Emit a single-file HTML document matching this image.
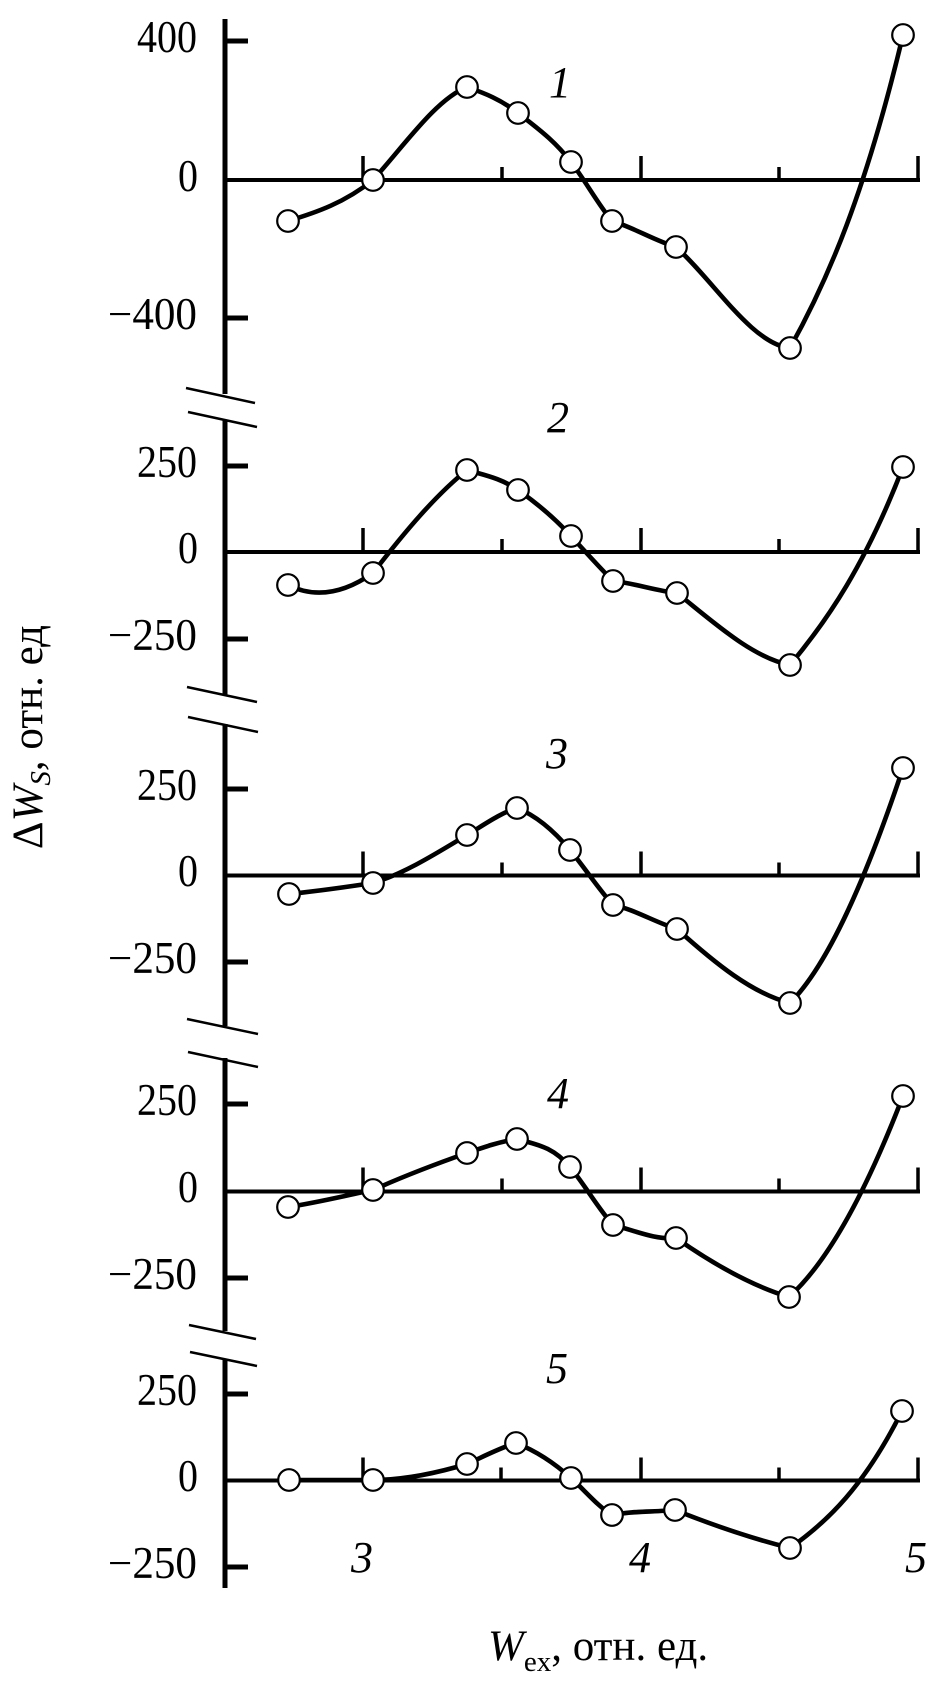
<!DOCTYPE html>
<html><head><meta charset="utf-8"><style>
html,body{margin:0;padding:0;background:#fff;}
svg{display:block;}
text{font-family:"Liberation Serif","Noto Serif CJK SC",serif;fill:#000;}
</style></head><body>
<svg width="939" height="1683" viewBox="0 0 939 1683" xmlns="http://www.w3.org/2000/svg">
<rect width="939" height="1683" fill="#fff"/>
<g stroke="#000" fill="none" stroke-linecap="butt">
<!-- y axis segments -->
<line x1="225" y1="19" x2="225" y2="394" stroke-width="5"/>
<line x1="225" y1="420" x2="225" y2="695" stroke-width="5"/>
<line x1="225" y1="724" x2="225" y2="1026" stroke-width="5"/>
<line x1="225" y1="1058" x2="225" y2="1331" stroke-width="5"/>
<line x1="225" y1="1359" x2="225" y2="1588" stroke-width="5"/>
<!-- breaks -->
<g stroke-width="2.5">
<line x1="186" y1="388" x2="255" y2="403"/><line x1="188" y1="412" x2="257" y2="427"/>
<line x1="187" y1="687" x2="257" y2="702"/><line x1="188" y1="717" x2="258" y2="732"/>
<line x1="187" y1="1019" x2="258" y2="1034"/><line x1="188" y1="1052" x2="258" y2="1067"/>
<line x1="189" y1="1325" x2="256" y2="1339"/><line x1="190" y1="1352" x2="257" y2="1366"/>
</g>
<!-- y ticks -->
<g stroke-width="5">
<line x1="225" y1="41" x2="248" y2="41"/><line x1="225" y1="318" x2="248" y2="318"/>
<line x1="225" y1="466" x2="248" y2="466"/><line x1="225" y1="639" x2="248" y2="639"/>
<line x1="225" y1="789" x2="248" y2="789"/><line x1="225" y1="962" x2="248" y2="962"/>
<line x1="225" y1="1104" x2="248" y2="1104"/><line x1="225" y1="1278" x2="248" y2="1278"/>
<line x1="225" y1="1394" x2="248" y2="1394"/><line x1="225" y1="1567" x2="248" y2="1567"/>
</g>
<!-- zero lines -->
<g stroke-width="4">
<line x1="225" y1="180" x2="920" y2="180"/>
<line x1="225" y1="552" x2="920" y2="552"/>
<line x1="225" y1="875.5" x2="920" y2="875.5"/>
<line x1="225" y1="1191.5" x2="920" y2="1191.5"/>
<line x1="225" y1="1480.5" x2="920" y2="1480.5"/>
</g>
<g stroke-width="3.5">
<path d="M363,180 v-24 M502,180 v-13 M641,180 v-24 M779,180 v-13 M918,180 v-24"/>
<path d="M363,552 v-24 M502,552 v-13 M641,552 v-24 M779,552 v-13 M918,552 v-24"/>
<path d="M363,875.5 v-24 M502,875.5 v-13 M641,875.5 v-24 M779,875.5 v-13 M918,875.5 v-24"/>
<path d="M363,1191.5 v-24 M502,1191.5 v-13 M641,1191.5 v-24 M779,1191.5 v-13 M918,1191.5 v-24"/>
<path d="M363,1480.5 v-23 M501,1480.5 v-13 M641,1480.5 v-23 M779,1480.5 v-13 M918,1480.5 v-23"/>
</g>
<!-- curves -->
<g stroke-width="4.6" stroke-linejoin="round">
<path d="M288,221 C316.3,212.5 344.7,202.7 373,180 C404.3,145.5 435.7,99.5 467,87 C484,93 501,99.4 518,113 C535.7,127.1 553.3,139 571,162 C584.7,179.8 598.3,204.6 612,221 C633.3,227.4 654.7,240.6 676,247 C714,281.2 752,344.2 790,348 C827.7,280.2 865.3,193.2 903,35"/>
<path d="M288,585 C316.3,599.2 344.7,592.8 373,573 C404.3,532.3 435.7,495 467,470 C484,475.1 501,478.1 518,490 C535.7,502.4 553.3,516.6 571,536 C585,551.4 599,567 613,581 C634.3,583.1 655.7,590.9 677,593 C714.7,623.1 752.3,657.5 790,665 C827.7,619.8 865.3,564.9 903,467"/>
<path d="M289,894 C317,891.2 345,887.2 373,883 C404.3,873.6 435.7,853.8 467,835 C483.7,825 500.3,813 517,808 C534.7,815.1 552.3,828.8 570,850 C584.3,867.2 598.7,889.2 613,905 C634.3,909.3 655.7,922.6 677,929 C714.7,962.9 752.3,993.6 790,1003 C827.7,965.3 865.3,881 903,768"/>
<path d="M288,1207 C316.3,1202.75 344.7,1195.7 373,1190 C404.3,1175.9 435.7,1164 467,1153 C483.7,1147.2 500.3,1141.5 517,1139 C534.7,1144.3 552.3,1145.8 570,1167 C584.3,1184.2 598.7,1209.2 613,1225 C634,1230.25 655,1240.1 676,1238 C713.7,1264.4 751.3,1285.7 789,1297 C827,1262.8 865,1194.8 903,1096"/>
<path d="M289,1480 L373,1480 C404.3,1480 435.7,1473.4 467,1464 C483.3,1456.65 499.7,1447.9 516,1443 C534.3,1450.3 552.7,1461.5 571,1478 C584.7,1490.3 598.3,1506.8 612,1515 C633,1510.8 654,1512.1 675,1510 C713.3,1525.3 751.7,1538.4 790,1548 C827.3,1521.9 864.7,1485.7 902,1411"/>
</g>
<!-- markers -->
<g fill="#fff" stroke-width="2.2">
<circle cx="288" cy="221" r="10.8"/><circle cx="373" cy="180" r="10.8"/><circle cx="467" cy="87" r="10.8"/><circle cx="518" cy="113" r="10.8"/><circle cx="571" cy="162" r="10.8"/><circle cx="612" cy="221" r="10.8"/><circle cx="676" cy="247" r="10.8"/><circle cx="790" cy="348" r="10.8"/><circle cx="903" cy="35" r="10.8"/>
<circle cx="288" cy="585" r="10.8"/><circle cx="373" cy="573" r="10.8"/><circle cx="467" cy="470" r="10.8"/><circle cx="518" cy="490" r="10.8"/><circle cx="571" cy="536" r="10.8"/><circle cx="613" cy="581" r="10.8"/><circle cx="677" cy="593" r="10.8"/><circle cx="790" cy="665" r="10.8"/><circle cx="903" cy="467" r="10.8"/>
<circle cx="289" cy="894" r="10.8"/><circle cx="373" cy="883" r="10.8"/><circle cx="467" cy="835" r="10.8"/><circle cx="517" cy="808" r="10.8"/><circle cx="570" cy="850" r="10.8"/><circle cx="613" cy="905" r="10.8"/><circle cx="677" cy="929" r="10.8"/><circle cx="790" cy="1003" r="10.8"/><circle cx="903" cy="768" r="10.8"/>
<circle cx="288" cy="1207" r="10.8"/><circle cx="373" cy="1190" r="10.8"/><circle cx="467" cy="1153" r="10.8"/><circle cx="517" cy="1139" r="10.8"/><circle cx="570" cy="1167" r="10.8"/><circle cx="613" cy="1225" r="10.8"/><circle cx="676" cy="1238" r="10.8"/><circle cx="789" cy="1297" r="10.8"/><circle cx="903" cy="1096" r="10.8"/>
<circle cx="289" cy="1480" r="10.8"/><circle cx="373" cy="1480" r="10.8"/><circle cx="467" cy="1464" r="10.8"/><circle cx="516" cy="1443" r="10.8"/><circle cx="571" cy="1478" r="10.8"/><circle cx="612" cy="1515" r="10.8"/><circle cx="675" cy="1510" r="10.8"/><circle cx="790" cy="1548" r="10.8"/><circle cx="902" cy="1411" r="10.8"/>
</g>
</g>
<!-- y tick labels -->
<g font-size="45">
<text x="137" y="52" textLength="60" lengthAdjust="spacingAndGlyphs">400</text>
<text x="178" y="191" textLength="20" lengthAdjust="spacingAndGlyphs">0</text>
<text x="108" y="329" textLength="89" lengthAdjust="spacingAndGlyphs">−400</text>
<text x="137" y="477" textLength="60" lengthAdjust="spacingAndGlyphs">250</text>
<text x="178" y="563" textLength="20" lengthAdjust="spacingAndGlyphs">0</text>
<text x="108" y="650" textLength="89" lengthAdjust="spacingAndGlyphs">−250</text>
<text x="137" y="800" textLength="60" lengthAdjust="spacingAndGlyphs">250</text>
<text x="178" y="886" textLength="20" lengthAdjust="spacingAndGlyphs">0</text>
<text x="108" y="973" textLength="89" lengthAdjust="spacingAndGlyphs">−250</text>
<text x="137" y="1115" textLength="60" lengthAdjust="spacingAndGlyphs">250</text>
<text x="178" y="1202" textLength="20" lengthAdjust="spacingAndGlyphs">0</text>
<text x="108" y="1289" textLength="89" lengthAdjust="spacingAndGlyphs">−250</text>
<text x="137" y="1405" textLength="60" lengthAdjust="spacingAndGlyphs">250</text>
<text x="178" y="1491" textLength="20" lengthAdjust="spacingAndGlyphs">0</text>
<text x="108" y="1578" textLength="89" lengthAdjust="spacingAndGlyphs">−250</text>
</g>
<!-- panel labels -->
<g font-size="44" font-style="italic" text-anchor="middle">
<text x="560" y="97">1</text>
<text x="558" y="432">2</text>
<text x="557" y="768">3</text>
<text x="558" y="1108">4</text>
<text x="557" y="1383">5</text>
<text x="362" y="1572">3</text>
<text x="640" y="1572">4</text>
<text x="916" y="1572">5</text>
</g>
<!-- axis titles -->
<text font-size="43" text-anchor="middle" transform="translate(42,737) rotate(-90)">Δ<tspan font-style="italic">W</tspan><tspan font-style="italic" font-size="29" dy="8">S</tspan><tspan dy="-8">, отн. ед</tspan></text>
<text font-size="43" x="488" y="1660"><tspan font-style="italic">W</tspan><tspan font-size="29" dy="11">ex</tspan><tspan dy="-11">, отн. ед.</tspan></text>
</svg>
</body></html>
